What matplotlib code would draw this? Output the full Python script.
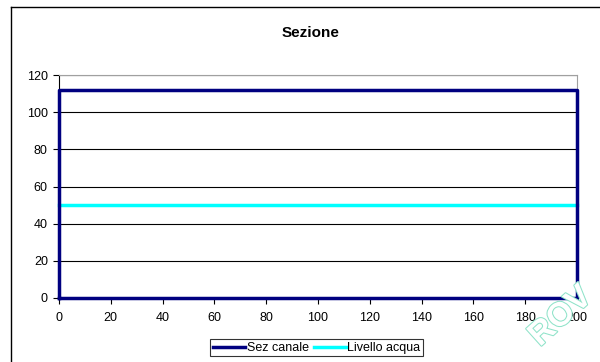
import matplotlib
matplotlib.use('Agg')
import matplotlib.pyplot as plt
import matplotlib.patheffects as pe
from matplotlib.lines import Line2D

plt.rcParams['font.family'] = ['Liberation Sans', 'DejaVu Sans']

# section outline (x, y) and water level
sez_x = [0, 0, 200, 200, 0]
sez_y = [0, 112, 112, 0, 0]
acqua_x = [0, 200]
acqua_y = [50, 50]

fig = plt.figure(figsize=(6.0, 3.62), dpi=100)
ax = fig.add_axes([0.0983, 0.1768, 0.8634, 0.616])

ax.plot(sez_x, sez_y, color='#000080', lw=2.5, label='Sez canale', zorder=4, clip_on=False)
ax.plot(acqua_x, acqua_y, color='#00ffff', lw=2.5, label='Livello acqua', zorder=3, clip_on=False)

ax.set_xlim(0, 200)
ax.set_ylim(0, 120)
ax.set_xticks(range(0, 201, 20))
ax.set_yticks(range(0, 121, 20))
ax.yaxis.grid(True, color='black', lw=0.8)
ax.tick_params(labelsize=9, length=4, width=0.8, direction='out', pad=4)
ax.tick_params(axis='x', pad=6)
for s in ['top', 'right']:
    ax.spines[s].set_color('#a0a0a0')
for s in ['left', 'bottom']:
    ax.spines[s].set_color('black')

fig.text(0.517, 0.909, 'Sezione', ha='center', va='center', fontsize=11, fontweight='bold')

leg = fig.legend(loc='center', bbox_to_anchor=(0.528, 0.039), ncol=2, fontsize=9,
                 frameon=True, fancybox=False, handlelength=2.6, handletextpad=0.1,
                 columnspacing=0.4, borderpad=0.2, borderaxespad=0)
leg.get_frame().set_edgecolor('black')
leg.get_frame().set_linewidth(0.8)

# chart border (left and top edges of the pasted chart)
fig.add_artist(Line2D([0.0175, 0.0175], [0, 0.981], color='black', lw=1))
fig.add_artist(Line2D([0.0175, 1.0], [0.981, 0.981], color='black', lw=1))

# faint watermark
fig.text(0.935, 0.125, 'ROV', ha='center', va='center', rotation=42, fontsize=24,
         fontweight='bold', color='white', zorder=0,
         path_effects=[pe.withStroke(linewidth=1.5, foreground='#8fe3c9')])

fig.savefig('out.png', dpi=100)
